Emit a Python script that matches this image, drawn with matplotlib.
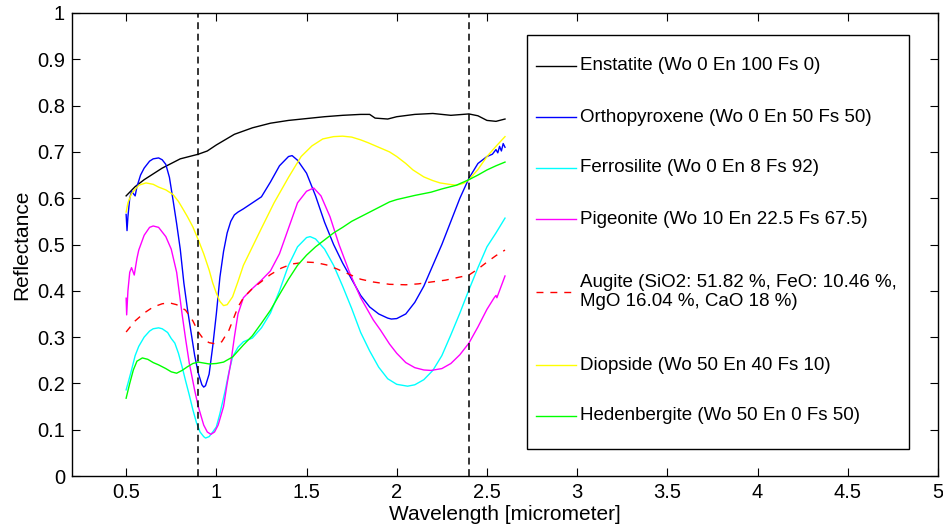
import matplotlib
matplotlib.use("Agg")
import matplotlib.pyplot as plt
from matplotlib.patches import Rectangle

plt.rcParams['font.family'] = ['Liberation Sans', 'DejaVu Sans']

ens_x = [0.5, 0.55, 0.6, 0.7, 0.8, 0.9, 0.95, 1.0, 1.1, 1.2, 1.3, 1.4, 1.5, 1.6, 1.7, 1.8, 1.85,
         1.88, 1.95, 2.0, 2.1, 2.2, 2.3, 2.4, 2.45, 2.5, 2.55, 2.6]
ens_y = [0.605, 0.625, 0.64, 0.665, 0.685, 0.695, 0.702, 0.715, 0.738, 0.752, 0.762, 0.768, 0.772,
         0.776, 0.779, 0.781, 0.781, 0.773, 0.771, 0.776, 0.781, 0.783, 0.779, 0.782, 0.778, 0.768,
         0.766, 0.771]

opx_x = [0.5, 0.505, 0.51, 0.52, 0.53, 0.54, 0.55, 0.56, 0.58, 0.6, 0.63, 0.65, 0.68, 0.7, 0.72,
         0.74, 0.76, 0.78, 0.8, 0.82, 0.84, 0.86, 0.88, 0.9, 0.92, 0.93, 0.94, 0.96, 0.98, 1.0,
         1.02, 1.04, 1.06, 1.08, 1.1, 1.12, 1.15, 1.2, 1.25, 1.3, 1.35, 1.4, 1.42, 1.45, 1.5, 1.55,
         1.6, 1.65, 1.7, 1.75, 1.8, 1.85, 1.9, 1.95, 1.97, 2.0, 2.05, 2.1, 2.15, 2.2, 2.25, 2.3,
         2.35, 2.4, 2.45, 2.5, 2.53, 2.55, 2.56, 2.57, 2.58, 2.59, 2.6]
opx_y = [0.565, 0.53, 0.56, 0.6, 0.615, 0.61, 0.605, 0.625, 0.65, 0.665, 0.68, 0.685, 0.687,
         0.683, 0.673, 0.645, 0.596, 0.545, 0.49, 0.417, 0.36, 0.31, 0.26, 0.222, 0.197, 0.192,
         0.195, 0.22, 0.28, 0.35, 0.43, 0.485, 0.525, 0.55, 0.564, 0.57, 0.577, 0.59, 0.603, 0.635,
         0.67, 0.69, 0.692, 0.682, 0.654, 0.605, 0.548, 0.5, 0.46, 0.425, 0.39, 0.365, 0.35, 0.341,
         0.339, 0.34, 0.35, 0.375, 0.41, 0.455, 0.5, 0.55, 0.6, 0.643, 0.675, 0.69, 0.695, 0.705,
         0.698, 0.712, 0.702, 0.718, 0.71]

fs_x = [0.5, 0.51, 0.53, 0.55, 0.57, 0.6, 0.63, 0.65, 0.68, 0.7, 0.73, 0.75, 0.77, 0.79, 0.81,
        0.83, 0.85, 0.87, 0.89, 0.91, 0.93, 0.94, 0.96, 0.98, 1.0, 1.02, 1.05, 1.07, 1.09, 1.12,
        1.15, 1.2, 1.25, 1.3, 1.35, 1.4, 1.45, 1.5, 1.52, 1.55, 1.6, 1.65, 1.7, 1.75, 1.8, 1.85,
        1.9, 1.95, 2.0, 2.06, 2.1, 2.15, 2.2, 2.25, 2.3, 2.35, 2.4, 2.45, 2.5, 2.55, 2.6]
fs_y = [0.186, 0.2, 0.229, 0.26, 0.28, 0.3, 0.313, 0.318, 0.32, 0.318, 0.31, 0.297, 0.287, 0.265,
        0.236, 0.205, 0.175, 0.143, 0.115, 0.095, 0.085, 0.082, 0.085, 0.095, 0.106, 0.135, 0.186,
        0.225, 0.257, 0.278, 0.29, 0.298, 0.32, 0.352, 0.4, 0.455, 0.495, 0.515, 0.517, 0.512,
        0.49, 0.455, 0.41, 0.362, 0.31, 0.27, 0.235, 0.21, 0.198, 0.194, 0.197, 0.208, 0.228,
        0.26, 0.305, 0.352, 0.402, 0.45, 0.495, 0.525, 0.557]

pig_x = [0.5, 0.503, 0.51, 0.52, 0.53, 0.545, 0.56, 0.57, 0.6, 0.63, 0.65, 0.68, 0.72, 0.75,
         0.78, 0.81, 0.83, 0.85, 0.88, 0.9, 0.93, 0.95, 0.97, 0.99, 1.01, 1.04, 1.06, 1.08, 1.1,
         1.12, 1.15, 1.2, 1.25, 1.3, 1.35, 1.41, 1.45, 1.5, 1.54, 1.58, 1.63, 1.68, 1.74, 1.8,
         1.87, 1.91, 1.96, 2.0, 2.05, 2.1, 2.15, 2.19, 2.25, 2.3, 2.35, 2.4, 2.45, 2.5, 2.54,
         2.55, 2.555, 2.6]
pig_y = [0.384, 0.348, 0.4, 0.44, 0.45, 0.434, 0.47, 0.488, 0.52, 0.537, 0.54, 0.537, 0.517,
         0.49, 0.44, 0.35, 0.295, 0.244, 0.185, 0.15, 0.11, 0.095, 0.09, 0.095, 0.11, 0.15, 0.2,
         0.244, 0.3, 0.35, 0.385, 0.405, 0.423, 0.443, 0.48, 0.546, 0.59, 0.615, 0.622, 0.605,
         0.56, 0.5, 0.438, 0.385, 0.337, 0.315, 0.285, 0.265, 0.245, 0.234, 0.229, 0.228, 0.232,
         0.243, 0.262, 0.287, 0.322, 0.36, 0.385, 0.39, 0.385, 0.432]

aug_x = [0.5, 0.55, 0.6, 0.65, 0.7, 0.74, 0.78, 0.83, 0.87, 0.9, 0.93, 0.96, 1.0, 1.03, 1.07,
         1.1, 1.12, 1.15, 1.2, 1.25, 1.3, 1.36, 1.42, 1.5, 1.55, 1.61, 1.67, 1.74, 1.8, 1.87,
         1.96, 2.05, 2.12, 2.19, 2.27, 2.33, 2.4, 2.45, 2.5, 2.55, 2.6]
aug_y = [0.311, 0.335, 0.352, 0.365, 0.372, 0.374, 0.37, 0.358, 0.335, 0.311, 0.295, 0.288,
         0.285, 0.29, 0.315, 0.345, 0.365, 0.385, 0.405, 0.42, 0.435, 0.449, 0.458, 0.462, 0.461,
         0.456, 0.447, 0.435, 0.425, 0.419, 0.414, 0.413, 0.415, 0.419, 0.423, 0.428, 0.434,
         0.447, 0.462, 0.476, 0.488]

dio_x = [0.5, 0.51, 0.53, 0.57, 0.61, 0.65, 0.68, 0.72, 0.76, 0.79, 0.81, 0.84, 0.87, 0.9, 0.93,
         0.96, 0.98, 1.0, 1.02, 1.04, 1.06, 1.09, 1.12, 1.15, 1.2, 1.25, 1.32, 1.4, 1.47, 1.53,
         1.59, 1.65, 1.7, 1.75, 1.8, 1.84, 1.9, 1.96, 2.0, 2.05, 2.09, 2.15, 2.2, 2.24, 2.29,
         2.33, 2.37, 2.4, 2.45, 2.5, 2.55, 2.6]
dio_y = [0.57, 0.59, 0.61, 0.628, 0.633, 0.63, 0.624, 0.618, 0.608, 0.593, 0.58, 0.56, 0.538,
         0.51, 0.48, 0.445, 0.417, 0.395, 0.377, 0.368, 0.37, 0.387, 0.42, 0.455, 0.495, 0.535,
         0.59, 0.645, 0.69, 0.713, 0.728, 0.733, 0.734, 0.732, 0.726, 0.72, 0.71, 0.7, 0.69, 0.675,
         0.661, 0.646, 0.638, 0.633, 0.63, 0.628, 0.632, 0.64, 0.662, 0.69, 0.712, 0.733]

hed_x = [0.5, 0.52, 0.54, 0.56, 0.59, 0.62, 0.65, 0.68, 0.72, 0.75, 0.78, 0.81, 0.84, 0.87, 0.9,
         0.93, 0.96, 1.0, 1.04, 1.09, 1.12, 1.15, 1.2, 1.25, 1.3, 1.35, 1.4, 1.45, 1.5, 1.55,
         1.6, 1.65, 1.7, 1.75, 1.81, 1.9, 1.96, 2.0, 2.1, 2.19, 2.25, 2.33, 2.4, 2.45, 2.5, 2.55,
         2.6]
hed_y = [0.168, 0.2, 0.229, 0.248, 0.255, 0.252, 0.245, 0.24, 0.232, 0.225, 0.222, 0.228, 0.236,
         0.243, 0.246, 0.244, 0.242, 0.243, 0.246, 0.257, 0.27, 0.283, 0.303, 0.33, 0.358, 0.392,
         0.425, 0.455, 0.477, 0.495, 0.51, 0.525, 0.537, 0.55, 0.562, 0.58, 0.592, 0.597, 0.606,
         0.613, 0.62, 0.628, 0.64, 0.65, 0.661, 0.67, 0.678]

labels = ['Enstatite (Wo 0 En 100 Fs 0)',
          'Orthopyroxene (Wo 0 En 50 Fs 50)',
          'Ferrosilite (Wo 0 En 8 Fs 92)',
          'Pigeonite (Wo 10 En 22.5 Fs 67.5)',
          'Augite (SiO2: 51.82 %, FeO: 10.46 %,\nMgO 16.04 %, CaO 18 %)',
          'Diopside (Wo 50 En 40 Fs 10)',
          'Hedenbergite (Wo 50 En 0 Fs 50)']

band_centers = [0.9, 2.4]

W, H = 943, 529
AX_L, AX_R, AX_T, AX_B = 72, 938, 13, 476

fig = plt.figure(figsize=(W / 100, H / 100), dpi=100)
ax = fig.add_axes([AX_L / W, 1 - AX_B / H, (AX_R - AX_L) / W, (AX_B - AX_T) / H])

lw = 1.0
series = [
    (ens_x, ens_y, '#000000', '-'),
    (opx_x, opx_y, '#0000ff', '-'),
    (fs_x, fs_y, '#00ffff', '-'),
    (pig_x, pig_y, '#ff00ff', '-'),
    (aug_x, aug_y, '#ff0000', (0, (5, 5))),
    (dio_x, dio_y, '#ffff00', '-'),
    (hed_x, hed_y, '#00ff00', '-'),
]
for (x, y, c, ls), lab in zip(series, labels):
    ax.plot(x, y, color=c, lw=lw, ls=ls, label=lab)

for bc in band_centers:
    ax.axvline(bc, color='k', lw=1.1, ls=(0, (4.5, 3)))

ax.set_xlim(0.2, 5)
ax.set_ylim(0, 1)
ax.set_xticks([0.5, 1, 1.5, 2, 2.5, 3, 3.5, 4, 4.5, 5])
ax.set_xticklabels(['0.5', '1', '1.5', '2', '2.5', '3', '3.5', '4', '4.5', '5'])
ax.set_yticks([0, 0.1, 0.2, 0.3, 0.4, 0.5, 0.6, 0.7, 0.8, 0.9, 1])
ax.set_yticklabels(['0', '0.1', '0.2', '0.3', '0.4', '0.5', '0.6', '0.7', '0.8', '0.9', '1'])
ax.tick_params(direction='in', top=True, right=True, length=6, width=0.8, labelsize=14.5,
               pad=5)
for s in ax.spines.values():
    s.set_linewidth(1.0)

ax.set_xlabel('Wavelength [micrometer]', fontsize=15, labelpad=2)
ax.set_ylabel('Reflectance', fontsize=15, labelpad=4)

# legend drawn by hand (MATLAB-style spacing)
def fx(px):
    return (px - AX_L) / (AX_R - AX_L)

def fy(py):
    return (AX_B - py) / (AX_B - AX_T)

box_l, box_r, box_t, box_b = 527, 909, 35, 449
ax.add_patch(Rectangle((fx(box_l), fy(box_b)), fx(box_r) - fx(box_l), fy(box_t) - fy(box_b),
                       transform=ax.transAxes, facecolor='white', edgecolor='black', lw=1.0,
                       zorder=5))
row_py = [66, 117, 168, 219, 292, 365, 416]
for (x, y, c, ls), lab, py in zip(series, labels, row_py):
    ax.plot([fx(536), fx(576)], [fy(py), fy(py)], transform=ax.transAxes, color=c, lw=lw,
            ls=ls, zorder=6, clip_on=False)
    ax.text(fx(580), fy(py), lab, transform=ax.transAxes, fontsize=13.5, va='center',
            ha='left', zorder=6, linespacing=1.2)

fig.savefig('out.png', dpi=100)
